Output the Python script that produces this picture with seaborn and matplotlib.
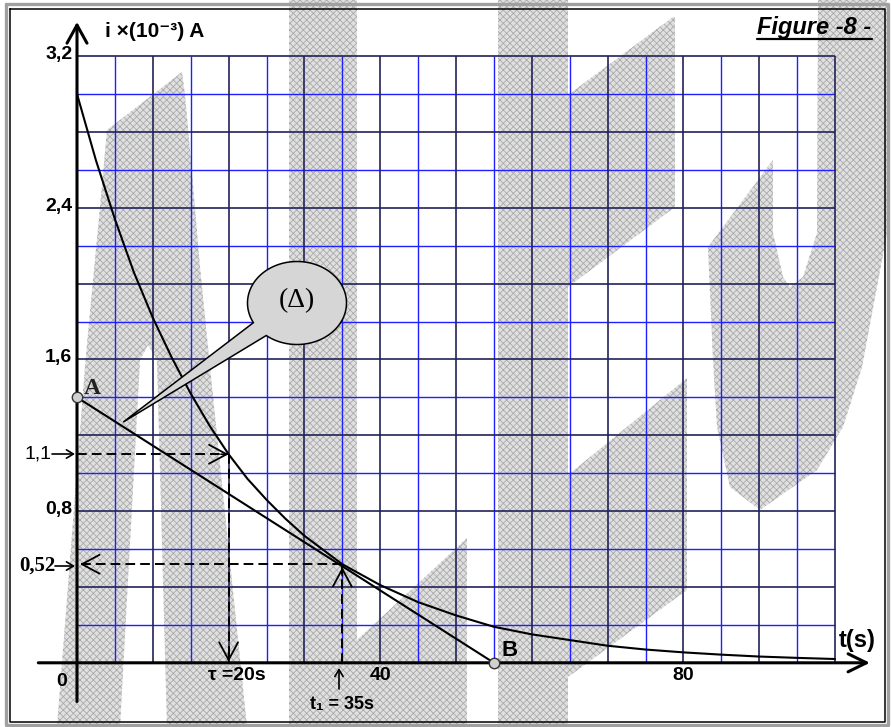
import numpy as np
import matplotlib
matplotlib.use("Agg")
import matplotlib.pyplot as plt
import seaborn as sns
from matplotlib.path import Path
from matplotlib.patches import PathPatch

t_curve = [0, 2.5, 5, 7.5, 10, 12.5, 15, 17.5, 20, 22.5, 25, 27.5, 30, 35, 40,
           45, 50, 55, 60, 65, 70, 75, 80, 85, 90, 95, 100]
i_curve = [3.00, 2.65, 2.34, 2.06, 1.82, 1.61, 1.42, 1.25, 1.10, 0.97, 0.86, 0.76,
           0.67, 0.52, 0.41, 0.32, 0.25, 0.19, 0.15, 0.12, 0.09, 0.07, 0.055,
           0.043, 0.033, 0.026, 0.02]

# tangente (Delta) de A vers B
point_A = (0, 1.40)
point_B = (55, 0.0)

tau, i_tau = 20, 1.1
t1, i_t1 = 35, 0.52

y_ticks = [0.8, 1.6, 2.4, 3.2]
y_tick_labels = ["0,8", "1,6", "2,4", "3,2"]
x_ticks = [0, 40, 80]
x_tick_labels = ["0", "40", "80"]

sns.set_theme(style="white")
plt.rcParams['font.family'] = ['Liberation Sans', 'DejaVu Sans']
plt.rcParams['text.color'] = 'black'
plt.rcParams['hatch.linewidth'] = 0.6
plt.rcParams['hatch.color'] = '#aaaaaa'

W, H = 891, 727
fig = plt.figure(figsize=(W / 100, H / 100), dpi=100)
ax = fig.add_axes([0, 0, 1, 1])
X0, Y0, SX, SY = 77, 662.8, 7.58, 189.6   # origine et echelle en pixels
ax.set_xlim(-X0 / SX, (W - X0) / SX)
ax.set_ylim((Y0 - H) / SY, Y0 / SY)
ax.axis('off')


def px(x, y):
    # pixel (depuis le haut a gauche) -> coordonnees des donnees
    return (x - X0) / SX, (Y0 - y) / SY


# filigrane gris en fond
watermark = [
    [(289, 0), (357, 0), (357, 727), (289, 727)],
    [(498, 0), (568, 0), (568, 727), (498, 727)],
    [(568, 95), (673, 17), (675, 17), (675, 207), (568, 287)],
    [(568, 475), (687, 378), (687, 590), (568, 677)],
    [(467, 538), (467, 727), (357, 727), (357, 640)],
    [(818, 0), (887, 0), (887, 233), (862, 367), (843, 427), (817, 470), (760, 510),
     (730, 487), (717, 427), (713, 360), (708, 247), (773, 160), (773, 233),
     (783, 277), (790, 287), (803, 277), (817, 233)],
    [(107, 130), (182, 72), (185, 95), (192, 173), (200, 267), (210, 367), (247, 727),
     (167, 727), (157, 360), (148, 345), (140, 360), (120, 727), (57, 727), (85, 367),
     (88, 333), (100, 207)],
]
for shape in watermark:
    pts = [px(x, y) for x, y in shape]
    ax.fill([p[0] for p in pts], [p[1] for p in pts], facecolor='#e0e0e0',
            edgecolor='#aaaaaa', hatch='xxxxx', linewidth=0, zorder=0)

# quadrillage
navy = '#22225a'
blue = '#1f1fff'
ax.vlines(np.arange(5, 100, 10), 0, 3.2, color=blue, lw=1.0, zorder=1)
ax.hlines(np.arange(0.2, 3.2, 0.4), 0, 100, color=blue, lw=1.0, zorder=1)
ax.vlines(np.arange(10, 101, 10), 0, 3.2, color=navy, lw=1.2, zorder=1)
ax.hlines(np.arange(0.4, 3.21, 0.4), 0, 100, color=navy, lw=1.2, zorder=1)

# axes avec fleches
ax.annotate('', xy=(104.6, 0), xytext=(-5.1, 0), zorder=5,
            arrowprops=dict(arrowstyle='->,head_length=1.32,head_width=0.65', lw=2.2,
                            color='black', shrinkA=0, shrinkB=0, mutation_scale=10))
ax.annotate('', xy=(0, 3.38), xytext=(0, -0.204), zorder=5,
            arrowprops=dict(arrowstyle='->,head_length=1.3,head_width=0.72', lw=2.2,
                            color='black', shrinkA=0, shrinkB=0, mutation_scale=10))

# courbe et tangente
sns.lineplot(x=t_curve, y=i_curve, color='black', lw=1.5, ax=ax, zorder=4)
sns.lineplot(x=[point_A[0], point_B[0]], y=[point_A[1], point_B[1]], color='black',
             lw=1.5, ax=ax, zorder=4)
ax.plot([point_A[0], point_B[0]], [point_A[1], point_B[1]], 'o', ms=7.5,
        mfc='#d0d0d0', mec='#333333', mew=1.0, zorder=6)

# pointilles de lecture
dash = (0, (5, 2.6))
ax.plot([0, tau], [i_tau, i_tau], color='black', lw=1.4, ls=dash, zorder=4)
ax.plot([tau, tau], [i_tau, 0], color='black', lw=1.4, ls=dash, zorder=4)
ax.plot([t1, 0.4], [i_t1, i_t1], color='black', lw=1.4, ls=dash, zorder=4)
ax.plot([t1, t1], [0, i_t1], color='black', lw=1.4, ls=dash, zorder=4)

head = dict(arrowstyle='->,head_length=1.27,head_width=0.68', lw=1.3, color='black',
            shrinkA=0, shrinkB=0, mutation_scale=10)
ax.annotate('', xy=(tau, i_tau), xytext=(tau - 1, i_tau), arrowprops=head, zorder=5)
ax.annotate('', xy=(tau, 0.005), xytext=(tau, 0.05), arrowprops=head, zorder=5)
ax.annotate('', xy=(0.4, i_t1), xytext=(1.4, i_t1), arrowprops=head, zorder=5)
ax.annotate('', xy=(t1, i_t1 - 0.015), xytext=(t1, i_t1 - 0.06), arrowprops=head, zorder=5)

small = dict(arrowstyle='->,head_length=0.5,head_width=0.3', lw=1.2, color='black',
             shrinkA=0, shrinkB=0, mutation_scale=10)
ax.annotate('', xy=px(339, 668), xytext=px(339, 689), arrowprops=small, zorder=5)
ax.annotate('', xy=px(75, 454), xytext=px(52, 454), arrowprops=small, zorder=5)
ax.annotate('', xy=px(75, 566), xytext=px(55, 566), arrowprops=small, zorder=5)

# bulle (Delta)
tc, ic = px(297, 303)
ea, eb = 49.5 / SX, 41.5 / SY
theta = np.radians(np.linspace(231.6, 568.3, 200))
bx = list(tc + ea * np.cos(theta)) + [px(123.3, 422)[0]]
by = list(ic + eb * np.sin(theta)) + [px(123.3, 422)[1]]
verts = list(zip(bx, by)) + [(bx[0], by[0])]
codes = [Path.MOVETO] + [Path.LINETO] * (len(verts) - 2) + [Path.CLOSEPOLY]
ax.add_patch(PathPatch(Path(verts, codes), facecolor='#d6d6d6', edgecolor='black',
                       lw=1.1, zorder=6))
ax.text(*px(297, 301), '(Δ)', family='Liberation Serif', fontsize=20,
        ha='center', va='center', zorder=7)

# textes
ax.text(*px(105, 32), 'i ×(10⁻³) A', fontsize=15, fontweight='bold',
        ha='left', va='center', zorder=7)
for yv, lab in zip(y_ticks, y_tick_labels):
    ax.text(-0.6, yv + 0.008, lab, fontsize=14, fontweight='bold', ha='right',
            va='center', zorder=7)
for xv, lab in zip(x_ticks, x_tick_labels):
    if xv == 0:
        ax.text(*px(62, 681), lab, fontsize=14, fontweight='bold', ha='center',
                va='center', zorder=7)
    else:
        ax.text(xv, px(0, 675)[1], lab, fontsize=14, fontweight='bold', ha='center',
                va='center', zorder=7)
ax.text(*px(857, 640), 't(s)', fontsize=17, fontweight='bold', ha='center',
        va='center', zorder=7)
ax.text(*px(92, 389), 'A', family='Liberation Serif', fontsize=17, fontweight='bold',
        ha='center', va='center', color='#222222', zorder=7)
ax.text(*px(510, 650), 'B', fontsize=16, fontweight='bold', ha='center',
        va='center', zorder=7)
ax.text(*px(51, 454), '1,1', fontsize=14, ha='right', va='center', zorder=7)
ax.text(*px(55, 566), '0,52', family='Liberation Serif', fontsize=15,
        fontweight='bold', ha='right', va='center', zorder=7)
ax.text(*px(237, 676), 'τ =20s', fontsize=14, fontweight='bold', ha='center',
        va='center', zorder=7)
ax.text(*px(342, 705), 't₁ = 35s', fontsize=13, fontweight='bold', ha='center',
        va='center', zorder=7)
ax.text(*px(757, 28), 'Figure -8 -', fontsize=17, fontweight='bold',
        fontstyle='italic', ha='left', va='center', zorder=7)
ax.plot([px(757, 0)[0], px(872, 0)[0]], [px(0, 39.5)[1]] * 2, color='black', lw=1.6,
        zorder=7)

# cadre double
for (x1, y1, x2, y2), col, lw in [((6, 4, 888, 725), '#a0a0a0', 2.4),
                                   ((10, 9, 885, 722), 'black', 1.1)]:
    fx = [px(x1, 0)[0], px(x2, 0)[0], px(x2, 0)[0], px(x1, 0)[0], px(x1, 0)[0]]
    fy = [px(0, y1)[1], px(0, y1)[1], px(0, y2)[1], px(0, y2)[1], px(0, y1)[1]]
    ax.plot(fx, fy, color=col, lw=lw, zorder=8, clip_on=False)

if ax.get_legend() is not None:
    ax.get_legend().remove()
fig.savefig('out.png', dpi=100)
